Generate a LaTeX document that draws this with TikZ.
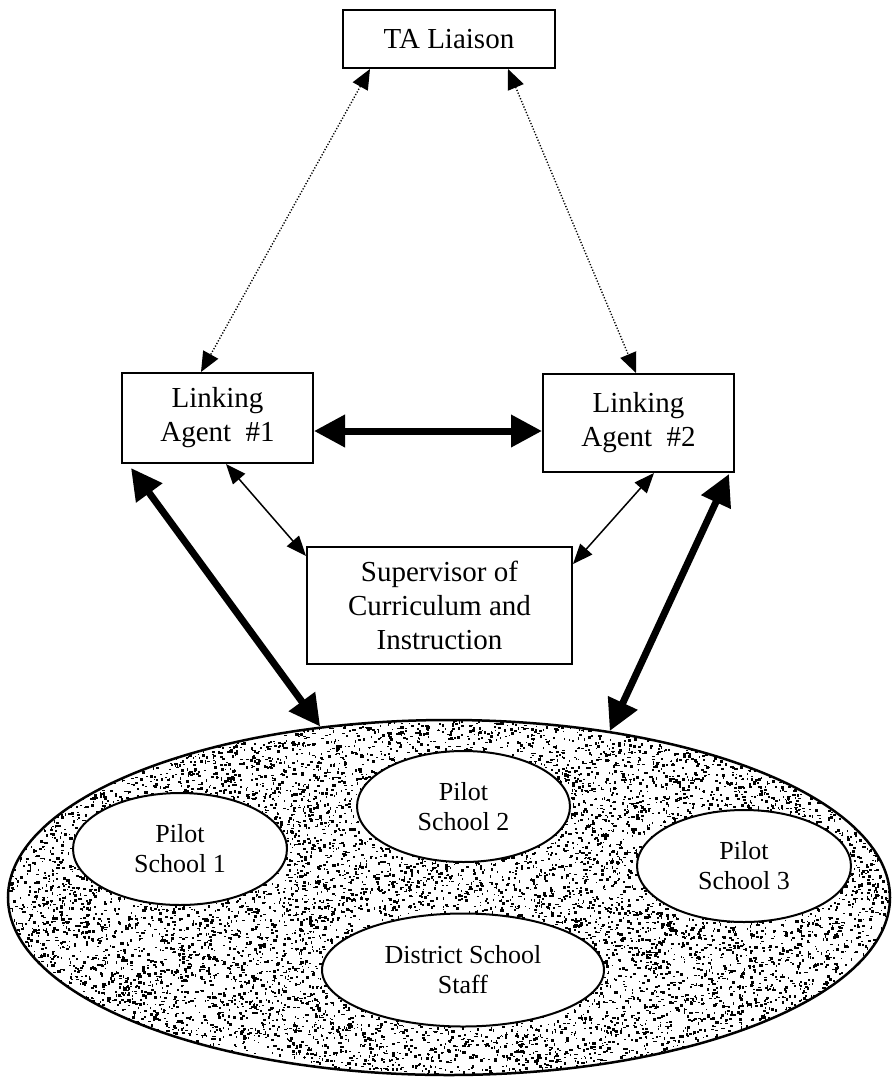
\documentclass[tikz,border=0pt]{standalone}
\usepackage{fontspec}
\setmainfont{Liberation Serif}
\usetikzlibrary{arrows.meta,shapes.geometric}
\newcommand\boxfont{\fontsize{29}{34}\selectfont}
\newcommand\ovalfont{\fontsize{26}{30}\selectfont}

\begin{document}
\begin{tikzpicture}[x=1pt,y=-1pt,
  box/.style={draw, line width=2pt, rectangle, inner sep=0pt, align=center, font=\boxfont},
  oval/.style={draw, line width=2pt, ellipse, fill=white, inner sep=0pt, align=center, font=\ovalfont},
  dotlink/.style={line width=1.4pt, dash pattern=on 1.2pt off 1.8pt,
    arrows={Triangle[length=20pt,width=17pt]-Triangle[length=20pt,width=17pt]}},
  thinlink/.style={line width=1.5pt,
    arrows={Triangle[length=20pt,width=16pt]-Triangle[length=20pt,width=16pt]}},
  thicklink/.style={line width=7pt,
    arrows={Triangle[length=31pt,width=31pt]-Triangle[length=31pt,width=31pt]}},
]
\fill[white] (0,0) rectangle (892,1082);
\useasboundingbox (0,0) rectangle (892,1082);

% speckled ground of the district
\begin{scope}
  \clip (449,897.5) ellipse [x radius=441pt, y radius=177.5pt];
  \pgfmathsetseed{2718}
  \foreach \k in {1,...,13000}{
    \fill ({449+441*rand},{897.5+177.5*rand}) rectangle ++({0.9+2.6*rnd},{0.9+2.2*rnd});
  }
\end{scope}

% boxes
\node[box, minimum width=212pt, minimum height=58pt] (ta) at (449,39) {TA Liaison};
\node[box, minimum width=191pt, minimum height=90pt] (la1) at (217.5,418) {Linking\\Agent~ \#1};
\node[box, minimum width=191pt, minimum height=98pt] (la2) at (638.5,423) {Linking\\Agent~ \#2};
\node[box, minimum width=265pt, minimum height=117pt] (sup) at (439.5,605.5) {Supervisor of\\Curriculum and\\Instruction};

% district and its schools
\node[draw, line width=2.5pt, ellipse, minimum width=882pt, minimum height=355pt, inner sep=0pt] (site) at (449,897.5) {};
\node[oval, minimum width=214pt, minimum height=112pt] (p1) at (180,849) {Pilot\\School 1};
\node[oval, minimum width=213pt, minimum height=111pt] (p2) at (463.5,806.5) {Pilot\\School 2};
\node[oval, minimum width=214pt, minimum height=112pt] (p3) at (744,866) {Pilot\\School 3};
\node[oval, minimum width=282pt, minimum height=113pt] (dss) at (463,970) {District School\\Staff};

% links
\draw[dotlink] ([xshift=28pt]ta.south west) -- ([xshift=80pt]la1.north west);
\draw[dotlink] ([xshift=-48pt]ta.south east) -- ([xshift=94pt]la2.north west);
\draw[thicklink] ([yshift=-13pt]la1.east) -- ([yshift=-13pt]la1.east -| la2.west);
\draw[thinlink] ([xshift=105pt]la1.south west) -- ([yshift=-10pt]sup.north west);
\draw[thinlink] ([xshift=-81pt]la2.south east) -- ([yshift=-18pt]sup.north east);
\draw[thicklink] ([shift={(10pt,-4pt)}]la1.south west) -- (site.127.8);
\draw[thicklink] ([shift={(-6pt,-1pt)}]la2.south east) -- (site.46.3);
\end{tikzpicture}
\end{document}
